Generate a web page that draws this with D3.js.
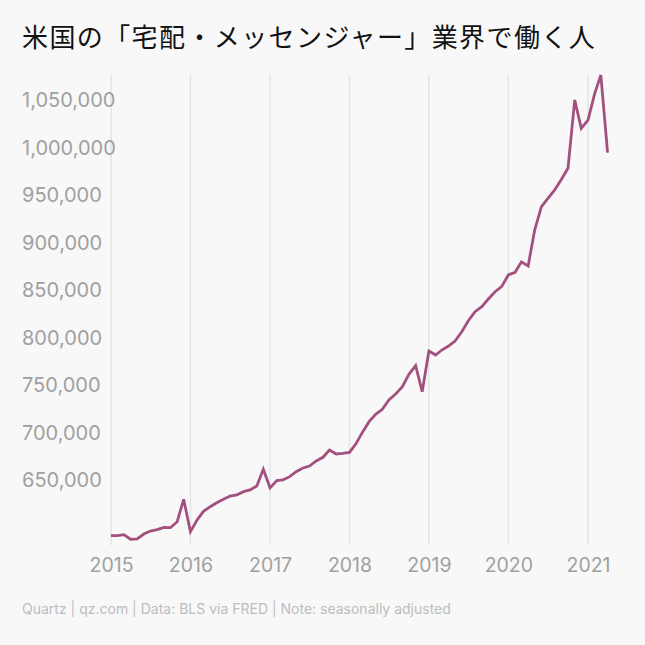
<!DOCTYPE html>
<html>
<head>
<meta charset="utf-8">
<script src="https://cdn.jsdelivr.net/npm/d3@7"></script>
<style>
  html, body { margin: 0; padding: 0; background: #f8f8f8; }
  svg { display: block; }
</style>
</head>
<body>
<div id="chart"></div>
<script>
// monthly, Jan 2015 - Apr 2021
const startYear = 2015;
const yearTicks = [2015, 2016, 2017, 2018, 2019, 2020, 2021];
const valueTicks = [650000, 700000, 750000, 800000, 850000, 900000, 950000, 1000000, 1050000];

const workers2015 = [589300, 589300, 590300, 585500, 585800, 591000, 594200, 595600, 598100, 597700, 604000, 627600];
const workers2016 = [593500, 606000, 614900, 619800, 624000, 627600, 631000, 632100, 635600, 637400, 641600, 659200];
const workers2017 = [639500, 647200, 647900, 651400, 656600, 660500, 662600, 667900, 671800, 679500, 675300, 676000];
const workers2018 = [677000, 686500, 698000, 709300, 717000, 722300, 732100, 738400, 746100, 759200, 768200, 740800];
const workers2019 = [783700, 779500, 784700, 788900, 794200, 804000, 815500, 825100, 830300, 838400, 846100, 851400];
const workers2020 = [863700, 866500, 877500, 873200, 911000, 935600, 944400, 953200, 964400, 976000, 1047900, 1018100];
const workers2021 = [1026800, 1054900, 1074200, 992400];

const workers = [].concat(workers2015, workers2016, workers2017, workers2018, workers2019, workers2020, workers2021);

const data = workers.map((v, i) => ({
    date: new Date(startYear + Math.floor(i / 12), i % 12, 1),
    value: v
}));

const width = 645, height = 645;

const svg = d3.select("#chart")
    .append("svg")
    .attr("width", width)
    .attr("height", height);

svg.append("rect")
    .attr("width", width)
    .attr("height", height)
    .attr("fill", "#f8f8f8");

let x = d3.scaleTime()
    .domain([new Date(2015, 0, 1), new Date(2021, 0, 1)])
    .range([111, 588]);

let y = d3.scaleLinear()
    .domain([580000, 1075000])
    .range([544.5, 74.25]);

// title
svg.append("text")
    .attr("x", 22)
    .attr("y", 47)
    .attr("font-family", "'Noto Sans CJK JP', sans-serif")
    .attr("font-size", "26px")
    .attr("font-weight", 400)
    .attr("letter-spacing", "1.4px")
    .attr("fill", "#111")
    .text("米国の「宅配・メッセンジャー」業界で働く人");

// vertical grid
svg.append("g")
    .selectAll("line")
    .data(yearTicks)
    .join("line")
    .attr("x1", d => x(new Date(d, 0, 1)))
    .attr("x2", d => x(new Date(d, 0, 1)))
    .attr("y1", 75)
    .attr("y2", 545)
    .attr("stroke", "#e4e4e4")
    .attr("stroke-width", 1.5);

// x axis labels
let xAxis = d3.axisBottom(x)
    .tickValues(yearTicks.map(d => new Date(d, 0, 1)))
    .tickFormat(d3.timeFormat("%Y"))
    .tickSize(0)
    .tickPadding(0);

let xAxisGroup = svg.append("g")
    .attr("class", "x axis")
    .attr("transform", "translate(0, 545)")
    .call(xAxis);
xAxisGroup.select(".domain").remove();
xAxisGroup.selectAll("text")
    .attr("dy", null)
    .attr("y", 27)
    .attr("font-family", "Inter, sans-serif")
    .attr("font-size", "19.5px")
    .attr("fill", "#a0a0a0");

// y axis labels (left aligned)
let yAxis = d3.axisLeft(y)
    .tickValues(valueTicks)
    .tickFormat(d3.format(","))
    .tickSize(0);

let yAxisGroup = svg.append("g")
    .attr("class", "y axis")
    .call(yAxis);
yAxisGroup.select(".domain").remove();
yAxisGroup.selectAll("text")
    .attr("x", 22)
    .attr("dy", null)
    .attr("y", 8.5)
    .attr("text-anchor", "start")
    .attr("font-family", "Inter, sans-serif")
    .attr("font-size", "20px")
    .attr("fill", "#a0a0a0");

// line
let line = d3.line()
    .x(d => x(d.date))
    .y(d => y(d.value));

svg.append("path")
    .datum(data)
    .attr("fill", "none")
    .attr("stroke", "#a3507f")
    .attr("stroke-width", 2.8)
    .attr("stroke-linejoin", "miter")
    .attr("d", line);

// footer
svg.append("text")
    .attr("x", 22)
    .attr("y", 614)
    .attr("font-family", "Inter, sans-serif")
    .attr("font-size", "14px")
    .attr("fill", "#bdbdbd")
    .text("Quartz | qz.com | Data: BLS via FRED | Note: seasonally adjusted");
</script>
</body>
</html>
